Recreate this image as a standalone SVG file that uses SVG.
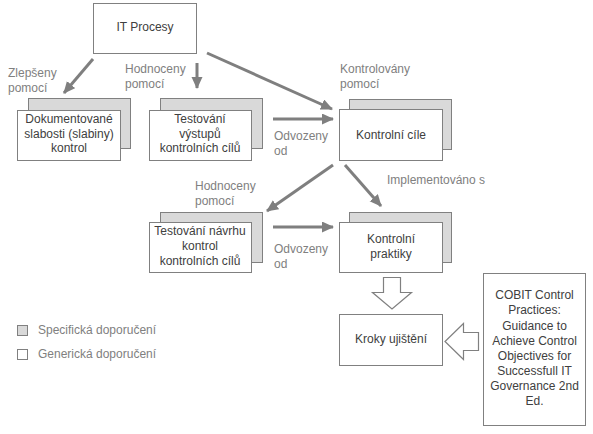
<svg xmlns="http://www.w3.org/2000/svg" width="593" height="434" viewBox="0 0 593 434">
<style>
text{font-family:"Liberation Sans",Arial,sans-serif;font-size:12px}
.n{fill:#404040;text-anchor:middle}
.l{fill:#808080}
.box{fill:#fff;stroke:#808080;stroke-width:1}
.sh{fill:#d9d9d9;stroke:#808080;stroke-width:1}
.c{stroke:#7f7f7f;stroke-width:3;fill:none;marker-end:url(#ah)}
.blk{fill:#fff;stroke:#808080;stroke-width:1.2}
</style>
<defs>
<marker id="ah" markerUnits="userSpaceOnUse" markerWidth="14" markerHeight="12" refX="11" refY="5.5" orient="auto">
<path d="M0,0 L12,5.5 L0,11 Z" fill="#7f7f7f"/>
</marker>
</defs>
<rect width="593" height="434" fill="#fff"/>
<g id="it-procesy">
<rect class="box" x="93.5" y="3.5" width="103" height="50"/>
<text class="n" x="145" y="31">IT Procesy</text>
</g>
<g id="dokumentovane">
<rect class="sh" x="28.5" y="98.5" width="102" height="50"/>
<rect class="box" x="17.5" y="110.5" width="103" height="50"/>
<text class="n" x="69" y="123">Dokumentované</text>
<text class="n" x="69" y="137.5">slabosti (slabiny)</text>
<text class="n" x="69" y="152">kontrol</text>
</g>
<g id="testovani-vystupu">
<rect class="sh" x="160.5" y="98.5" width="102" height="50"/>
<rect class="box" x="149.5" y="110.5" width="102" height="50"/>
<text class="n" x="200" y="123">Testování</text>
<text class="n" x="200" y="137.5">výstupů</text>
<text class="n" x="200" y="152">kontrolních cílů</text>
</g>
<g id="kontrolni-cile">
<rect class="sh" x="349.5" y="99.5" width="102" height="50"/>
<rect class="box" x="339.5" y="109.5" width="103" height="51"/>
<text class="n" x="391" y="139">Kontrolní cíle</text>
</g>
<g id="testovani-navrhu">
<rect class="sh" x="160.5" y="212.5" width="102" height="50"/>
<rect class="box" x="149.5" y="222.5" width="102" height="50"/>
<text class="n" x="200" y="235">Testování návrhu</text>
<text class="n" x="200" y="250">kontrol</text>
<text class="n" x="200" y="264.5">kontrolních cílů</text>
</g>
<g id="kontrolni-praktiky">
<rect class="sh" x="349.5" y="212.5" width="102" height="50"/>
<rect class="box" x="339.5" y="222.5" width="103" height="50"/>
<text class="n" x="391" y="243">Kontrolní</text>
<text class="n" x="391" y="258">praktiky</text>
</g>
<g id="kroky-ujisteni">
<rect class="box" x="339.5" y="314.5" width="103" height="51"/>
<text class="n" x="391" y="343">Kroky ujištění</text>
</g>
<g id="cobit">
<rect class="box" x="483.5" y="273.5" width="102" height="152"/>
<text class="n" x="534.5" y="299">COBIT Control</text>
<text class="n" x="534.5" y="314">Practices:</text>
<text class="n" x="534.5" y="330">Guidance to</text>
<text class="n" x="534.5" y="345">Achieve Control</text>
<text class="n" x="534.5" y="360">Objectives for</text>
<text class="n" x="534.5" y="375">Successfull IT</text>
<text class="n" x="534.5" y="390">Governance 2nd</text>
<text class="n" x="534.5" y="405">Ed.</text>
</g>
<g id="connectors">
<line class="c" x1="93" y1="59" x2="64" y2="93"/>
<line class="c" x1="197" y1="63" x2="197" y2="88"/>
<line class="c" x1="207" y1="53" x2="332" y2="109"/>
<line class="c" x1="273" y1="119" x2="333" y2="119"/>
<line class="c" x1="333" y1="165" x2="267" y2="211"/>
<line class="c" x1="345" y1="165" x2="381" y2="206"/>
<line class="c" x1="273" y1="227" x2="333" y2="227"/>
<path class="blk" d="M383.5,277.5 H400.5 V292.5 H411.5 L392,309 L372.5,292.5 H383.5 Z"/>
<path class="blk" d="M478.5,332.5 V350.5 H463.5 V359.5 L445,341.5 L463.5,323.5 V332.5 Z"/>
</g>
<g id="labels">
<text class="l" x="8" y="77">Zlepšeny</text>
<text class="l" x="8" y="92">pomocí</text>
<text class="l" x="125" y="73">Hodnoceny</text>
<text class="l" x="125" y="88">pomocí</text>
<text class="l" x="340" y="73">Kontrolovány</text>
<text class="l" x="340" y="88">pomocí</text>
<text class="l" x="274" y="140">Odvozeny</text>
<text class="l" x="274" y="155">od</text>
<text class="l" x="195" y="190">Hodnoceny</text>
<text class="l" x="195" y="205">pomocí</text>
<text class="l" x="387" y="184">Implementováno s</text>
<text class="l" x="274" y="253">Odvozeny</text>
<text class="l" x="274" y="268">od</text>
</g>
<g id="legend">
<rect class="sh" x="17.5" y="325.5" width="10" height="10"/>
<text class="l" x="38" y="334">Specifická doporučení</text>
<rect class="box" x="17.5" y="349.5" width="10" height="10"/>
<text class="l" x="38" y="358">Generická doporučení</text>
</g>
</svg>
